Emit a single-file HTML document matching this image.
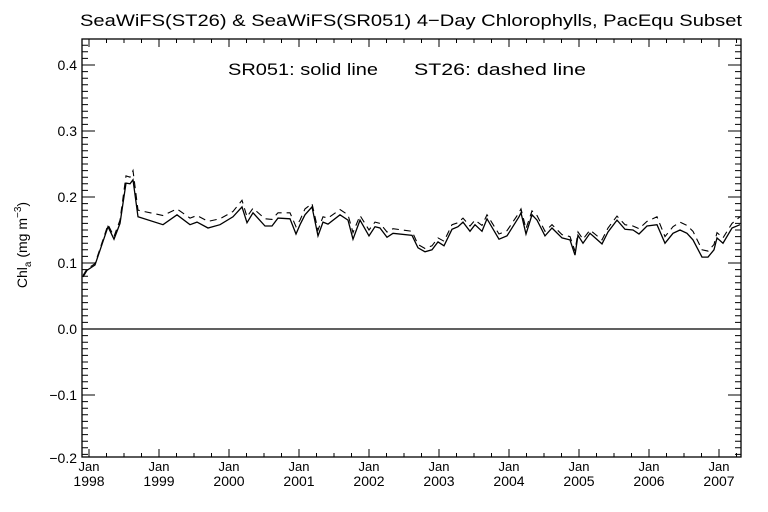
<!DOCTYPE html>
<html><head><meta charset="utf-8"><style>
body{margin:0;background:#fff}
svg{display:block;font-family:"Liberation Sans",sans-serif}
text{white-space:pre}
</style></head><body>
<svg id="chart" width="768" height="512" viewBox="0 0 768 512">
<rect width="768" height="512" fill="#fff"/>
<text x="80" y="26" font-size="17" textLength="662" lengthAdjust="spacingAndGlyphs">SeaWiFS(ST26) &amp; SeaWiFS(SR051) 4−Day Chlorophylls, PacEqu Subset</text>
<text x="228" y="75" font-size="17" textLength="150" lengthAdjust="spacingAndGlyphs">SR051: solid line</text>
<text x="414" y="75" font-size="17" textLength="172" lengthAdjust="spacingAndGlyphs">ST26: dashed line</text>
<text transform="translate(27,245) rotate(-90)" text-anchor="middle" font-size="14">Chl<tspan font-size="10" dy="4">a</tspan><tspan dy="-4"> (mg m</tspan><tspan font-size="10" dy="-6">−3</tspan><tspan dy="6">)</tspan></text>
<g id="axes"></g>
<g id="series"></g>
</svg>
<script>
const dates=[1997.914,1997.971,1998.086,1998.271,1998.357,1998.443,1998.529,1998.586,1998.629,1998.7,1999.057,1999.257,1999.443,1999.543,1999.7,1999.871,2000.057,2000.186,2000.257,2000.343,2000.514,2000.614,2000.7,2000.871,2000.957,2001.014,2001.086,2001.186,2001.271,2001.343,2001.414,2001.586,2001.7,2001.771,2001.871,2002.0,2002.086,2002.157,2002.257,2002.343,2002.614,2002.7,2002.8,2002.9,2002.986,2003.071,2003.186,2003.271,2003.343,2003.443,2003.514,2003.614,2003.686,2003.857,2003.971,2004.143,2004.171,2004.243,2004.329,2004.4,2004.514,2004.614,2004.757,2004.871,2004.943,2004.986,2005.057,2005.157,2005.329,2005.414,2005.543,2005.657,2005.771,2005.857,2005.971,2006.114,2006.229,2006.343,2006.443,2006.543,2006.629,2006.757,2006.843,2006.929,2006.971,2007.057,2007.186,2007.3];
const solid=[0.079,0.089,0.097,0.155,0.136,0.16,0.221,0.22,0.226,0.17,0.158,0.173,0.158,0.162,0.153,0.158,0.17,0.185,0.161,0.176,0.156,0.156,0.168,0.167,0.144,0.158,
0.173,0.185,0.141,0.162,0.159,0.173,0.165,0.136,0.165,0.141,0.155,0.153,0.139,0.145,0.142,0.123,0.117,0.12,0.132,0.126,0.151,0.155,0.162,0.148,0.158,0.148,0.167,0.136,0.141,0.17,
0.176,0.144,0.173,0.165,0.141,0.153,0.138,0.135,0.112,0.142,0.13,0.145,0.129,0.147,0.165,0.151,0.15,0.144,0.156,0.158,0.13,0.145,0.15,0.145,0.135,0.109,0.109,0.12,0.138,0.13,0.153,0.158];
const dashed=[0.081,0.091,0.099,0.158,0.14,0.165,0.232,0.23,0.24,0.18,0.172,0.182,0.168,0.172,0.163,0.167,0.178,0.195,0.17,0.183,0.167,0.166,0.176,0.176,0.155,0.165,
0.182,0.19,0.15,0.17,0.168,0.181,0.173,0.146,0.172,0.15,0.162,0.16,0.147,0.152,0.148,0.128,0.122,0.126,0.138,0.133,0.158,0.161,0.168,0.156,0.165,0.157,0.173,0.144,0.149,0.176,
0.182,0.152,0.179,0.172,0.148,0.158,0.143,0.14,0.118,0.147,0.136,0.15,0.135,0.153,0.171,0.158,0.156,0.152,0.163,0.17,0.14,0.155,0.162,0.157,0.148,0.12,0.118,0.128,0.146,0.138,0.16,0.17];
const yTicks=[-0.2,-0.1,0.0,0.1,0.2,0.3,0.4];
const yTickLabels=["−0.2","−0.1","0.0","0.1","0.2","0.3","0.4"];
const xYears=[1998,1999,2000,2001,2002,2003,2004,2005,2006,2007];

const L=82,R=741,T=39,B=457;
const X=y=>89+(y-1998)*70;
const Y=v=>329-660*v;
const NS="http://www.w3.org/2000/svg";
const axes=document.getElementById('axes'),series=document.getElementById('series');
function mk(tag,attrs,parent){const e=document.createElementNS(NS,tag);for(const k in attrs)e.setAttribute(k,attrs[k]);parent.appendChild(e);return e;}

const frame=mk('rect',{x:L,y:T,width:R-L,height:B-T,fill:'none',stroke:'#000','stroke-width':1.3},axes);


let d='';
for(let v=-0.19;v<=0.435;v+=0.01){const yy=Y(v);const major=Math.abs(Math.round(v*10)-v*10)<0.01;const len=major?13:6;d+=`M${L},${yy}h${len}M${R},${yy}h${-len}`;}
for(let yr=1998;yr<=2007.34;yr+=0.25){const xx=X(yr);const major=Math.abs(yr-Math.round(yr))<0.01;const len=major?8:4;d+=`M${xx},${B}v${-len}M${xx},${T}v${len}`;}
const ticks=mk('path',{d:d,stroke:'#000','stroke-width':1,fill:'none'},axes);


yTicks.forEach((v,i)=>{
  const t=mk('text',{x:L-5,y:(v===-0.2?Y(v)-3:Y(v))+5,'text-anchor':'end','font-size':14},axes);
  t.textContent=yTickLabels[i];
  
  
});
xYears.forEach(yr=>{
  const t1=mk('text',{x:X(yr),y:B+14,'text-anchor':'middle','font-size':13},axes);
  t1.textContent='Jan';
  
  
  const t2=mk('text',{x:X(yr),y:B+29,'text-anchor':'middle','font-size':14},axes);
  t2.textContent=String(yr);
  
  
});
const zl=mk('line',{x1:L,x2:R,y1:Y(0),y2:Y(0),stroke:'#000','stroke-width':1.2},axes);


function pts(arr){return dates.map((t,i)=>X(t).toFixed(1)+','+Y(arr[i]).toFixed(1)).join(' ');}
const ds=mk('polyline',{points:pts(dashed),fill:'none',stroke:'#000','stroke-width':1.1,'stroke-dasharray':'7,5'},series);


const ss=mk('polyline',{points:pts(solid),fill:'none',stroke:'#000','stroke-width':1.3},series);


</script>
</body></html>
